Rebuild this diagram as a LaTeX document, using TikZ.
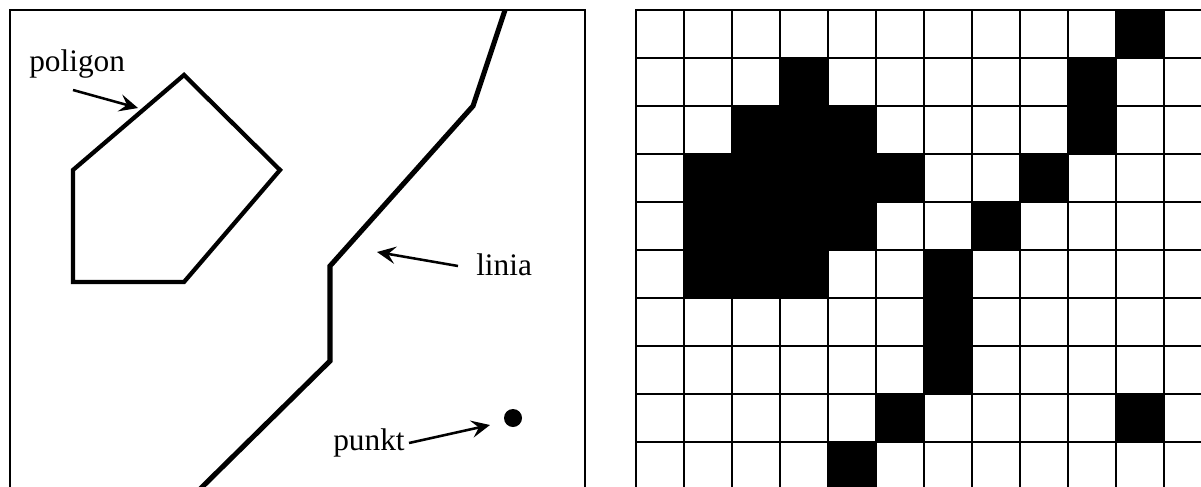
\documentclass[tikz,border=0pt]{standalone}
\usepackage{fontspec}
\setmainfont{Liberation Serif}
\usetikzlibrary{arrows.meta}
\begin{document}
\begin{tikzpicture}[x=0.75pt,y=-0.75pt,
  frame/.style={line width=1.5pt, line cap=rect},
  outline/.style={line width=3.2pt, line join=miter},
  river/.style={line width=3.8pt, line join=miter},
  pointer/.style={line width=1.9pt, -{Stealth[length=14pt,width=13pt,inset=5.5pt]}},
  lab/.style={font=\fontsize{23.5}{28}\selectfont, inner sep=0pt, anchor=base west},
  cell/.style={fill=black}]
\useasboundingbox (0,0) rectangle (1201,486);
\begin{scope}
\clip (0,0) rectangle (1201,486);
% ---------- left panel ----------
\draw[frame] (9.5,10) rectangle (585,520);
% polygon
\draw[outline] (73,170) -- (184,75) -- (280,170) -- (184,282) -- (73,282) -- cycle;
% line
\draw[river] (505,10) -- (473,106) -- (330,266) -- (330,361) -- (195,494);
% point
\node[circle, fill=black, inner sep=0pt, minimum size=13.5pt] (dot) at (513,418) {};
% labels
\node[lab] (poligon) at (29,71) {poligon};
\node[lab] (linia) at (476,275) {linia};
\node[lab] (punkt) at (333,450) {punkt};
\coordinate (pS) at (73,90);
\coordinate (pE) at (138,108);
\coordinate (lS) at (458,266);
\coordinate (lE) at (377,252);
\coordinate (kS) at (409,443);
\coordinate (kE) at (490,425);
\draw[pointer] (pS) -- (pE);
\draw[pointer] (lS) -- (lE);
\draw[pointer] (kS) -- (kE);
% ---------- right panel (raster) ----------
\foreach \c/\r in {10/0, 3/1, 9/1, 2/2, 3/2, 4/2, 9/2,
                   1/3, 2/3, 3/3, 4/3, 5/3, 8/3,
                   1/4, 2/4, 3/4, 4/4, 7/4,
                   1/5, 2/5, 3/5, 6/5,
                   6/6, 6/7, 5/8, 10/8, 4/9}
  \fill[cell] (636+48*\c,10+48*\r) rectangle ++(48,48);
\foreach \i in {0,...,12}
  \draw[frame] (636+48*\i,10) -- (636+48*\i,520);
\foreach \j in {0,...,10}
  \draw[frame] (636,10+48*\j) -- (1230,10+48*\j);
\end{scope}
\end{tikzpicture}
\end{document}
